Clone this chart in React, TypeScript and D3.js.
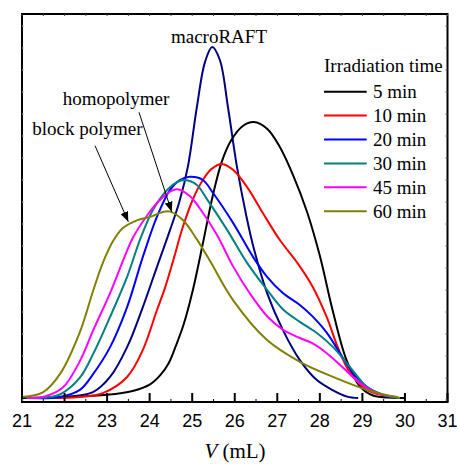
import React from "react";
import * as d3 from "d3";

type Pt = [number, number];

const xTicks = [21, 22, 23, 24, 25, 26, 27, 28, 29, 30, 31];
const legendTitle = "Irradiation time";
const seriesNames = ["5 min", "10 min", "20 min", "30 min", "45 min", "60 min"];
const seriesColors = ["#000000", "#ff0000", "#0000ff", "#008080", "#ff00ff", "#808000"];
const macroColor = "#000080";

const min5: Pt[] = [
  [21.0, 0], [22.0, 0.003], [23.0, 0.009], [23.6, 0.02], [24.0, 0.038], [24.25, 0.065],
  [24.45, 0.1], [24.62, 0.15], [24.8, 0.21], [25.02, 0.31], [25.25, 0.44], [25.49, 0.58],
  [25.7, 0.675], [25.92, 0.735], [26.19, 0.775], [26.45, 0.786], [26.76, 0.767], [27.06, 0.715],
  [27.37, 0.635], [27.7, 0.53], [28.0, 0.405], [28.3, 0.25], [28.62, 0.11], [28.94, 0.033],
  [29.25, 0.007], [29.7, 0.001], [30.0, 0],
];
const min10: Pt[] = [
  [21.2, 0], [22.36, 0.003], [22.9, 0.014], [23.47, 0.06], [23.84, 0.137], [24.17, 0.25],
  [24.35, 0.31], [24.55, 0.39], [24.78, 0.487], [25.02, 0.567], [25.25, 0.621], [25.45, 0.652],
  [25.7, 0.667], [25.96, 0.65], [26.29, 0.601], [26.66, 0.527], [27.06, 0.45], [27.5, 0.38],
  [27.84, 0.315], [28.17, 0.228], [28.42, 0.145], [28.71, 0.072], [29.11, 0.023], [29.48, 0.008],
  [29.81, 0.003],
];
const min20: Pt[] = [
  [21.2, 0], [21.89, 0.003], [22.36, 0.023], [22.67, 0.068], [23.07, 0.145], [23.47, 0.259],
  [23.84, 0.402], [24.17, 0.516], [24.48, 0.593], [24.71, 0.621], [24.95, 0.63], [25.25, 0.621],
  [25.49, 0.584], [25.96, 0.499], [26.43, 0.402], [26.76, 0.345], [27.13, 0.299], [27.53, 0.265],
  [27.84, 0.231], [28.17, 0.185], [28.47, 0.128], [28.78, 0.071], [29.11, 0.031], [29.48, 0.009],
  [29.88, 0],
];
const min30: Pt[] = [
  [21.1, 0], [21.66, 0.003], [21.89, 0.01], [22.36, 0.058], [22.67, 0.125], [23.07, 0.231],
  [23.47, 0.345], [23.77, 0.45], [24.08, 0.536], [24.41, 0.593], [24.64, 0.615], [24.83, 0.621],
  [25.11, 0.607], [25.35, 0.566], [25.82, 0.479], [26.29, 0.385], [26.76, 0.308], [27.13, 0.253],
  [27.53, 0.217], [27.93, 0.185], [28.31, 0.145], [28.71, 0.088], [29.11, 0.031], [29.48, 0.009],
  [29.88, 0],
];
const min45: Pt[] = [
  [21.12, 0], [21.49, 0.003], [21.96, 0.03], [22.36, 0.105], [22.67, 0.192], [23.07, 0.299],
  [23.37, 0.39], [23.61, 0.457], [23.94, 0.52], [24.24, 0.564], [24.48, 0.588], [24.64, 0.595],
  [24.95, 0.575], [25.18, 0.54], [25.58, 0.465], [25.96, 0.375], [26.36, 0.297], [26.76, 0.233],
  [27.13, 0.195], [27.53, 0.171], [27.84, 0.155], [28.17, 0.127], [28.54, 0.087], [28.94, 0.043],
  [29.34, 0.014], [29.81, 0.003],
];
const min60: Pt[] = [
  [21.0, 0.003], [21.49, 0.016], [21.89, 0.068], [22.36, 0.188], [22.67, 0.305], [22.9, 0.385],
  [23.14, 0.447], [23.37, 0.484], [23.7, 0.506], [24.01, 0.516], [24.31, 0.53], [24.48, 0.531],
  [24.78, 0.507], [25.11, 0.452], [25.42, 0.39], [25.96, 0.279], [26.76, 0.165], [27.53, 0.103],
  [28.31, 0.06], [29.11, 0.023], [29.88, 0],
];
const macroRAFT: Pt[] = [
  [21.4, 0], [21.89, 0.002], [22.67, 0.017], [23.07, 0.06], [23.47, 0.145], [23.84, 0.259],
  [24.17, 0.373], [24.48, 0.479], [24.7, 0.56], [24.9, 0.66], [25.11, 0.829], [25.3, 0.957],
  [25.47, 1.0], [25.65, 0.963], [25.84, 0.829], [26.05, 0.66], [26.27, 0.52], [26.45, 0.425],
  [26.76, 0.299], [27.13, 0.194], [27.53, 0.108], [27.93, 0.051], [28.31, 0.022], [28.64, 0.004],
  [28.9, 0],
];
const seriesData = [min5, min10, min20, min30, min45, min60];

const W = 457;
const H = 464;
const left = 22;
const right = 447.5;
const top = 14;
const bottom = 402;

export default function App() {
  const x = d3.scaleLinear().domain([21, 31]).range([left, right]);
  const y = d3.scaleLinear().domain([0, 1]).range([398, 47]);
  const line = d3
    .line<Pt>()
    .x((d) => x(d[0]))
    .y((d) => y(d[1]))
    .curve(d3.curveCatmullRom.alpha(0.5));

  const halfTicks = d3.range(21, 31.01, 0.5);
  const serif = "'Liberation Serif', 'Times New Roman', serif";
  const sans = "'Liberation Sans', Arial, sans-serif";

  const legendX = 324;
  const legendY0 = 91.7;
  const legendStep = 23.9;

  return (
    <svg
      width={W}
      height={H}
      viewBox={`0 0 ${W} ${H}`}
      style={{ position: "absolute", left: 0, top: 0, background: "#fff" }}
    >
      <defs>
        <marker id="arrow" viewBox="0 0 10 8" refX="10" refY="4" markerWidth="10" markerHeight="8"
          markerUnits="userSpaceOnUse" orient="auto">
          <path d="M0,0 L10,4 L0,8 Z" fill="#000" />
        </marker>
        <clipPath id="plot">
          <rect x={left} y={top} width={right - left} height={bottom - top - 2} />
        </clipPath>
      </defs>

      <g clipPath="url(#plot)" fill="none" strokeWidth={2} strokeLinejoin="round">
        <path d={line(macroRAFT) || ""} stroke={macroColor} />
        {seriesData.map((s, i) => (
          <path key={i} d={line(s) || ""} stroke={seriesColors[i]} />
        ))}
      </g>

      {/* frame */}
      <rect x={left} y={top} width={right - left} height={bottom - top} fill="none" stroke="#000" strokeWidth={2} />

      {/* bottom ticks */}
      {halfTicks.map((t, i) => {
        const major = Math.abs(t - Math.round(t)) < 1e-6;
        return (
          <line key={"b" + i} x1={x(t)} x2={x(t)} y1={bottom} y2={bottom - (major ? 9 : 3)} stroke="#000" strokeWidth={major ? 2 : 1} />
        );
      })}
      {/* top ticks */}
      {halfTicks.map((t, i) => (
        <line key={"t" + i} x1={x(t)} x2={x(t)} y1={top} y2={top + 2} stroke="#444" strokeWidth={1} />
      ))}
      {/* side ticks */}
      {d3.range(0, 18).map((k) => {
        const yy = bottom - 2 - k * 22;
        if (yy < top + 4) return null;
        return (
          <g key={"s" + k}>
            <line x1={left} x2={left + 2} y1={yy} y2={yy} stroke="#bbb" strokeWidth={1} />
            <line x1={right} x2={right - 2} y1={yy} y2={yy} stroke="#555" strokeWidth={1} />
          </g>
        );
      })}

      {/* tick labels */}
      {xTicks.map((t) => (
        <text key={"l" + t} x={x(t)} y={427} textAnchor="middle" fontFamily={sans} fontSize={18} fill="#000">
          {t}
        </text>
      ))}

      {/* axis title */}
      <text x={235} y={458} textAnchor="middle" fontFamily={serif} fontSize={21} fill="#000">
        <tspan fontStyle="italic">V</tspan>
        <tspan> (mL)</tspan>
      </text>

      {/* annotations */}
      <text x={x(25.63)} y={43} textAnchor="middle" fontFamily={serif} fontSize={19} fill="#000">macroRAFT</text>
      <text x={62.7} y={105} fontFamily={serif} fontSize={19} fill="#000">homopolymer</text>
      <text x={32.3} y={135} fontFamily={serif} fontSize={19} fill="#000">block polymer</text>
      <line x1={95} y1={145.7} x2={128.3} y2={221.7} stroke="#000" strokeWidth={1} markerEnd="url(#arrow)" />
      <line x1={139} y1={112.3} x2={171.7} y2={211.7} stroke="#000" strokeWidth={1} markerEnd="url(#arrow)" />

      {/* legend */}
      <text x={legendX} y={72} fontFamily={serif} fontSize={19} fill="#000">{legendTitle}</text>
      {seriesNames.map((name, i) => {
        const ly = legendY0 + i * legendStep;
        return (
          <g key={name}>
            <line x1={legendX} x2={366.7} y1={ly} y2={ly} stroke={seriesColors[i]} strokeWidth={2} />
            <text x={373} y={ly + 6.6} fontFamily={serif} fontSize={19} fill="#000">{name}</text>
          </g>
        );
      })}
    </svg>
  );
}
